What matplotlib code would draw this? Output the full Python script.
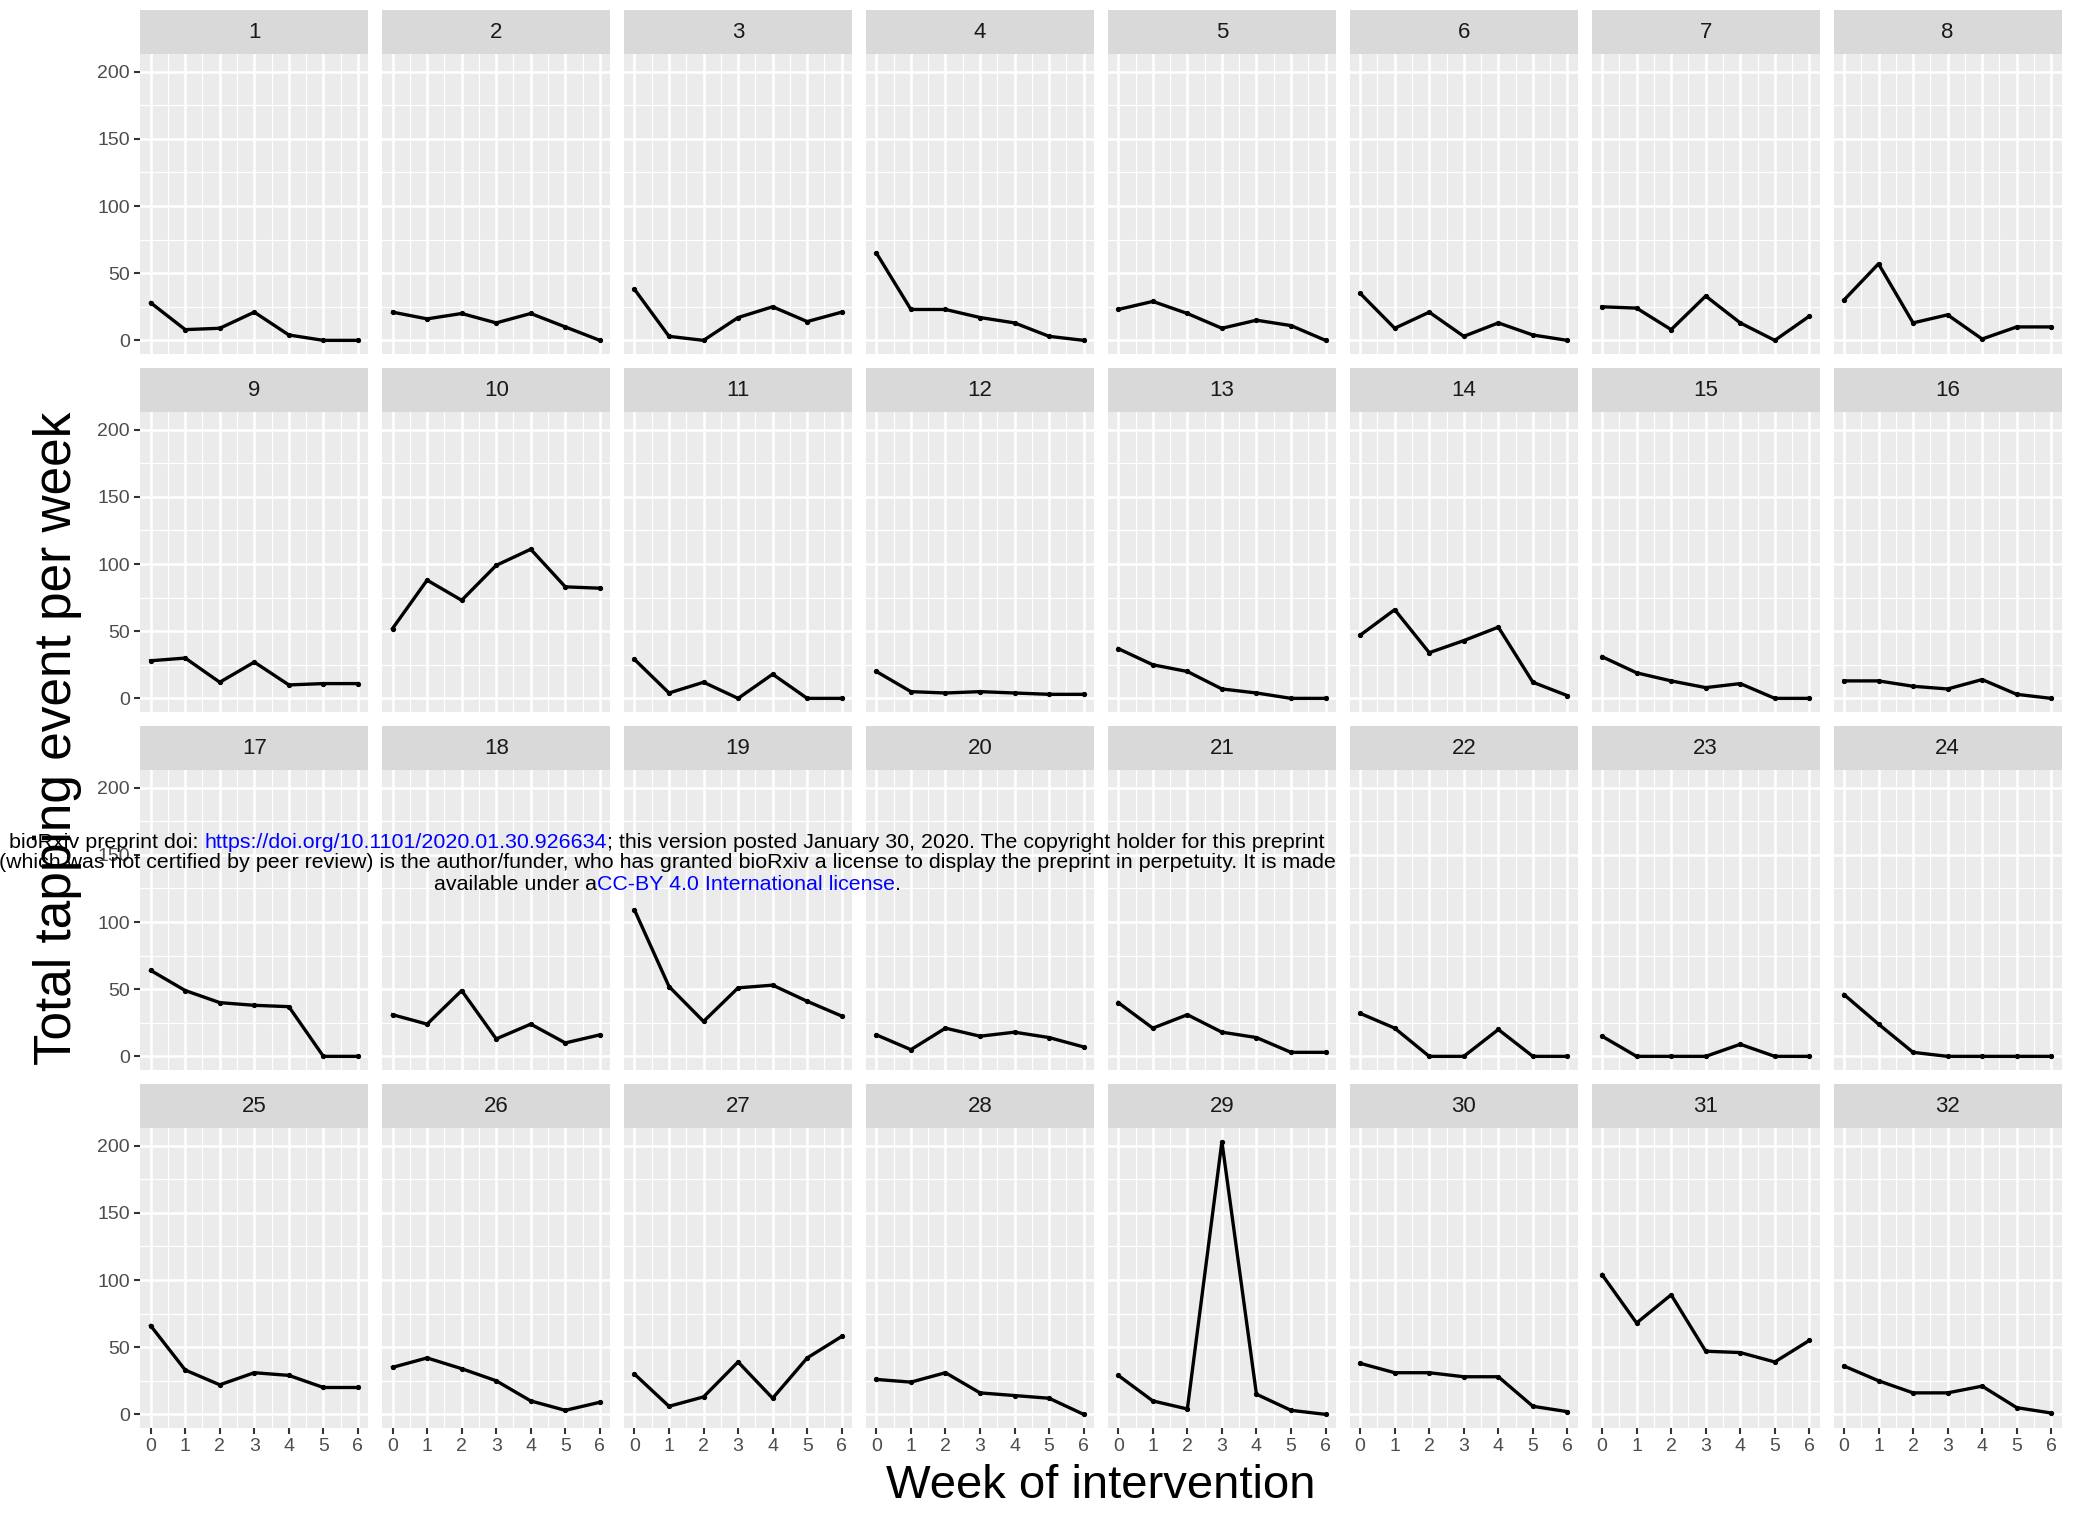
import numpy as np
import matplotlib
matplotlib.use("Agg")
import matplotlib.pyplot as plt

plt.rcParams['font.family'] = ['Liberation Sans', 'DejaVu Sans']

# weeks of intervention and weekly tapping totals for each participant
weeks = [0, 1, 2, 3, 4, 5, 6]
participants = list(range(1, 33))
counts = [
    [28, 8, 9, 21, 4, 0, 0],
    [21, 16, 20, 13, 20, 10, 0],
    [38, 3, 0, 17, 25, 14, 21],
    [65, 23, 23, 17, 13, 3, 0],
    [23, 29, 20, 9, 15, 11, 0],
    [35, 9, 21, 3, 13, 4, 0],
    [25, 24, 8, 33, 13, 0, 18],
    [30, 57, 13, 19, 1, 10, 10],
    [28, 30, 12, 27, 10, 11, 11],
    [52, 88, 73, 99, 111, 83, 82],
    [29, 4, 12, 0, 18, 0, 0],
    [20, 5, 4, 5, 4, 3, 3],
    [37, 25, 20, 7, 4, 0, 0],
    [47, 66, 34, 43, 53, 12, 2],
    [31, 19, 13, 8, 11, 0, 0],
    [13, 13, 9, 7, 14, 3, 0],
    [64, 49, 40, 38, 37, 0, 0],
    [31, 24, 49, 13, 24, 10, 16],
    [109, 52, 26, 51, 53, 41, 30],
    [16, 5, 21, 15, 18, 14, 7],
    [40, 21, 31, 18, 14, 3, 3],
    [32, 21, 0, 0, 20, 0, 0],
    [15, 0, 0, 0, 9, 0, 0],
    [46, 24, 3, 0, 0, 0, 0],
    [66, 33, 22, 31, 29, 20, 20],
    [35, 42, 34, 25, 10, 3, 9],
    [30, 6, 13, 39, 12, 42, 58],
    [26, 24, 31, 16, 14, 12, 0],
    [29, 10, 4, 203, 15, 3, 0],
    [38, 31, 31, 28, 28, 6, 2],
    [104, 68, 89, 47, 46, 39, 55],
    [36, 25, 16, 16, 21, 5, 1],
]
y_ticks = [0, 50, 100, 150, 200]

W, H = 2085, 1516
fig = plt.figure(figsize=(W / 100, H / 100), dpi=100)

ymax = max(max(c) for c in counts)
ylim = (-0.05 * ymax, ymax * 1.05)

for i, (pid, vals) in enumerate(zip(participants, counts)):
    r, c = divmod(i, 8)
    left = 140.3 + 241.9 * c
    strip_top = 10 + 358 * r
    ax_top = strip_top + 44
    ax_bot = ax_top + 300

    ax = fig.add_axes([left / W, 1 - ax_bot / H, 228 / W, 300 / H])
    ax.set_facecolor('#EBEBEB')
    ax.set_xlim(-0.3, 6.3)
    ax.set_ylim(*ylim)
    ax.set_xticks(weeks)
    ax.set_xticks(np.arange(0.5, 6, 1), minor=True)
    ax.set_yticks(y_ticks)
    ax.set_yticks([25, 75, 125, 175], minor=True)
    ax.grid(True, which='major', color='white', linewidth=1.8)
    ax.grid(True, which='minor', color='white', linewidth=0.9)
    ax.set_axisbelow(True)
    for s in ax.spines.values():
        s.set_visible(False)
    ax.tick_params(which='minor', length=0)
    ax.tick_params(which='major', length=4.5, width=1.5, color='#333333',
                   labelsize=14, labelcolor='#4D4D4D', pad=3)
    if c != 0:
        ax.tick_params(axis='y', which='major', length=0, labelleft=False)
    if r != 3:
        ax.tick_params(axis='x', which='major', length=0, labelbottom=False)

    ax.plot(weeks, vals, color='black', linewidth=2.4, marker='o',
            markersize=2.8, zorder=3)

    strip = fig.add_axes([left / W, 1 - ax_top / H, 228 / W, 44 / H])
    strip.set_facecolor('#D9D9D9')
    strip.set_xticks([])
    strip.set_yticks([])
    for s in strip.spines.values():
        s.set_visible(False)
    strip.text(0.5, 0.5, str(pid), ha='center', va='center',
               fontsize=16, color='#1A1A1A', transform=strip.transAxes)

fig.text(1101 / W, 1 - 1486 / H, 'Week of intervention', ha='center',
         va='center', fontsize=34)
fig.text(58 / W, 1 - 738 / H, 'Total tapping event per week', ha='center',
         va='center', rotation=90, fontsize=37)

# preprint notice laid over the figure
blue = '#0000FF'
notice = [
    (842, [('bioRxiv preprint doi: ', 'black'),
           ('https://doi.org/10.1101/2020.01.30.926634', blue),
           ('; this version posted January 30, 2020. The copyright holder for this preprint', 'black')]),
    (863, [('(which was not certified by peer review) is the author/funder, who has granted '
            'bioRxiv a license to display the preprint in perpetuity. It is made', 'black')]),
    (884, [('available under a', 'black'),
           ('CC-BY 4.0 International license', blue),
           ('.', 'black')]),
]
renderer = fig.canvas.get_renderer()
fs = 13.5
probe = fig.text(0, 0, notice[1][1][0][0], fontsize=fs)
fs = fs * 1334 / probe.get_window_extent(renderer).width
probe.remove()

for ypx, parts in notice:
    widths = []
    for s, col in parts:
        t = fig.text(0, 0, s, fontsize=fs)
        widths.append(t.get_window_extent(renderer).width)
        t.remove()
    x = 667 - sum(widths) / 2
    for (s, col), w in zip(parts, widths):
        fig.text(x / W, 1 - ypx / H, s, fontsize=fs, color=col, ha='left',
                 va='center', zorder=10)
        x += w

fig.savefig('out.png', dpi=100)
